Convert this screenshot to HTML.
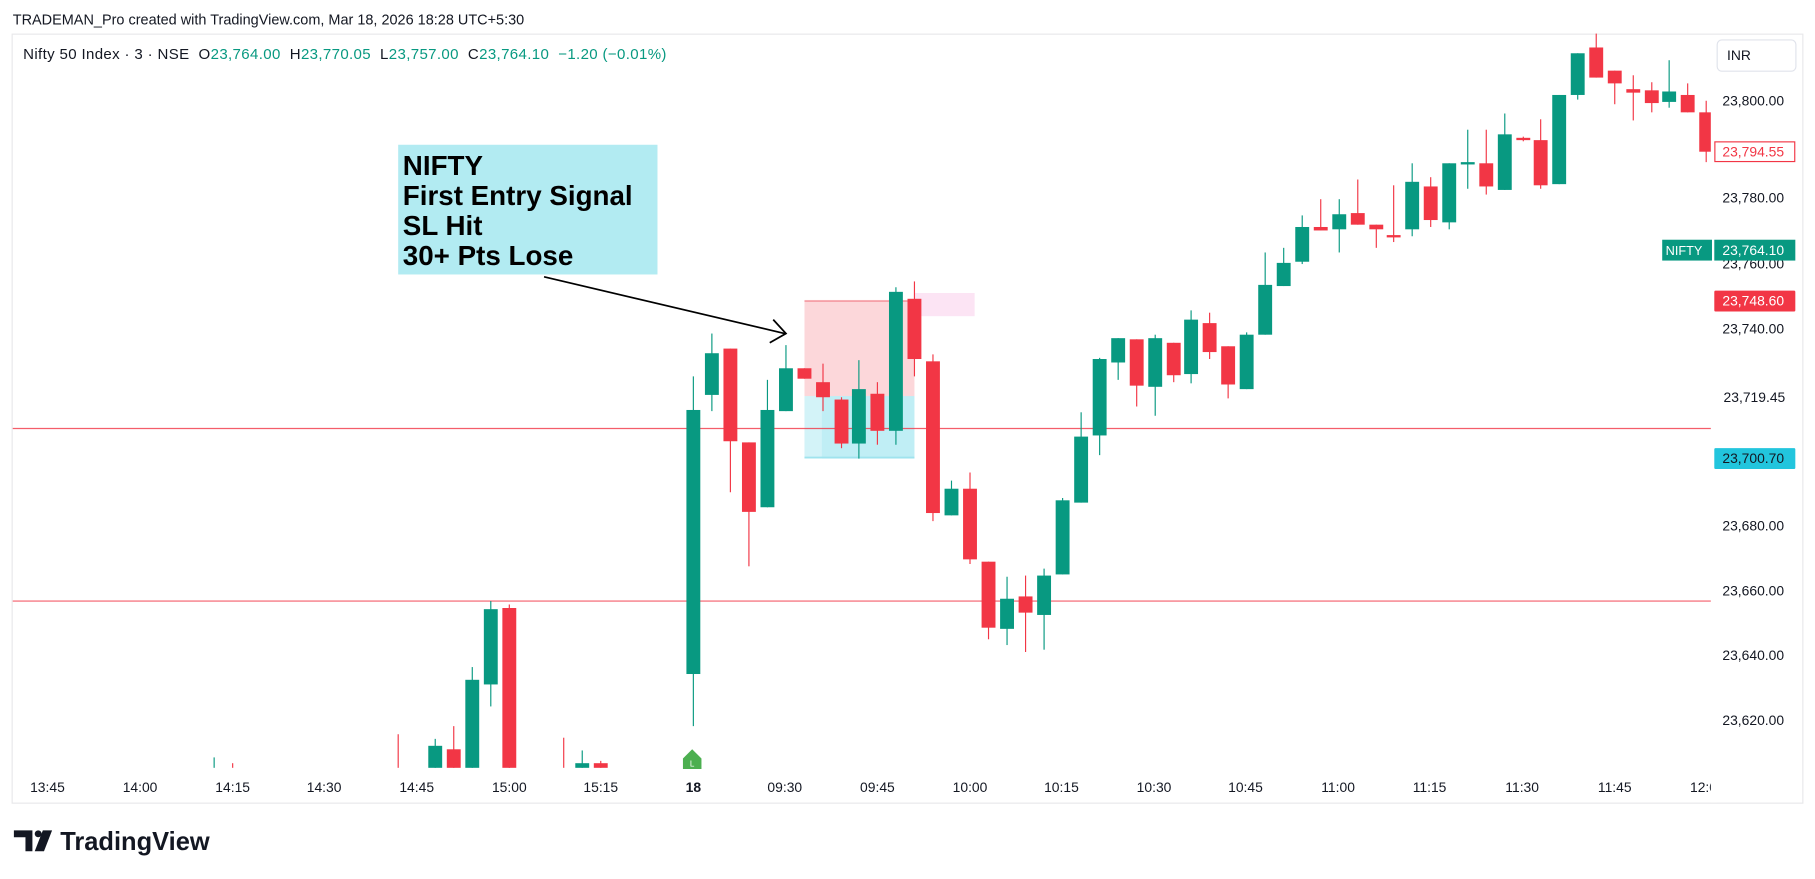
<!DOCTYPE html>
<html><head><meta charset="utf-8"><style>
html,body{margin:0;padding:0;background:#fff;overflow:hidden}
svg{display:block}
text{font-family:"Liberation Sans",sans-serif}
.g line{stroke:#089981;stroke-width:1}.g rect{fill:#089981}
.r line{stroke:#f23645;stroke-width:1}.r rect{fill:#f23645}
.ax{font-size:12px;fill:#131722}
</style></head><body>
<svg width="1815" height="879" viewBox="0 0 1568 759" preserveAspectRatio="none" xmlns="http://www.w3.org/2000/svg">
<rect width="1568" height="759" fill="#fff"/>
<text x="11" y="21" font-size="12.5" fill="#131722">TRADEMAN_Pro created with TradingView.com, Mar 18, 2026 18:28 UTC+5:30</text>
<rect x="10.5" y="29.5" width="1547" height="664" fill="#fff" stroke="#e8e8ea"/>
<text x="20" y="51" font-size="13" letter-spacing="0.3" fill="#131722" xml:space="preserve">Nifty 50 Index · 3 · NSE  O<tspan fill="#089981">23,764.00</tspan>  H<tspan fill="#089981">23,770.05</tspan>  L<tspan fill="#089981">23,757.00</tspan>  C<tspan fill="#089981">23,764.10  −1.20 (−0.01%)</tspan></text>
<rect x="1483.5" y="34.5" width="68" height="27" rx="4" fill="#fff" stroke="#e0e3eb"/>
<text x="1492" y="52" font-size="12" fill="#131722">INR</text>
<rect x="695" y="259" width="95" height="83" fill="#f23645" fill-opacity="0.2"/>
<line x1="695" y1="260" x2="790" y2="260" stroke="#f5a0a8" stroke-width="1.5"/>
<rect x="790" y="253" width="52" height="20" fill="#fce4f4"/>
<rect x="695" y="342" width="95" height="54" fill="#22c5dd" fill-opacity="0.2"/>
<rect x="710" y="342" width="80" height="54" fill="#22c5dd" fill-opacity="0.1"/>
<line x1="695" y1="395" x2="790" y2="395" stroke="#9fe3ee" stroke-width="1.5"/>
<line x1="11" y1="370" x2="1478" y2="370" stroke="#f23645" stroke-width="1" opacity="0.8"/>
<line x1="11" y1="519" x2="1478" y2="519" stroke="#f23645" stroke-width="1" opacity="0.8"/>
<g class="g"><line x1="185" y1="654" x2="185" y2="663"/></g>
<g class="r"><line x1="201" y1="659" x2="201" y2="663"/></g>
<g class="r"><line x1="344" y1="634" x2="344" y2="663"/></g>
<g class="g"><line x1="376" y1="638" x2="376" y2="663"/><rect x="370" y="644" width="12" height="19"/></g>
<g class="r"><line x1="392" y1="627" x2="392" y2="663"/><rect x="386" y="647" width="12" height="16"/></g>
<g class="g"><line x1="408" y1="576" x2="408" y2="663"/><rect x="402" y="587" width="12" height="76"/></g>
<g class="g"><line x1="424" y1="519" x2="424" y2="610"/><rect x="418" y="526" width="12" height="65"/></g>
<g class="r"><line x1="440" y1="522" x2="440" y2="663"/><rect x="434" y="525" width="12" height="138"/></g>
<g class="r"><line x1="487" y1="637" x2="487" y2="663"/></g>
<g class="g"><line x1="503" y1="648" x2="503" y2="663"/><rect x="497" y="659" width="12" height="4"/></g>
<g class="r"><line x1="519" y1="657" x2="519" y2="663"/><rect x="513" y="659" width="12" height="4"/></g>
<g class="g"><line x1="599" y1="325" x2="599" y2="627"/><rect x="593" y="354" width="12" height="228"/></g>
<g class="g"><line x1="615" y1="288" x2="615" y2="355"/><rect x="609" y="305" width="12" height="36"/></g>
<g class="r"><line x1="631" y1="301" x2="631" y2="425"/><rect x="625" y="301" width="12" height="80"/></g>
<g class="r"><line x1="647" y1="382" x2="647" y2="489"/><rect x="641" y="382" width="12" height="60"/></g>
<g class="g"><line x1="663" y1="328" x2="663" y2="438"/><rect x="657" y="354" width="12" height="84"/></g>
<g class="g"><line x1="679" y1="298" x2="679" y2="355"/><rect x="673" y="318" width="12" height="37"/></g>
<g class="r"><line x1="695" y1="318" x2="695" y2="327"/><rect x="689" y="318" width="12" height="9"/></g>
<g class="r"><line x1="711" y1="314" x2="711" y2="355"/><rect x="705" y="330" width="12" height="13"/></g>
<g class="r"><line x1="727" y1="343" x2="727" y2="387"/><rect x="721" y="345" width="12" height="38"/></g>
<g class="g"><line x1="742" y1="311" x2="742" y2="396"/><rect x="736" y="336" width="12" height="47"/></g>
<g class="r"><line x1="758" y1="330" x2="758" y2="384"/><rect x="752" y="340" width="12" height="32"/></g>
<g class="g"><line x1="774" y1="248" x2="774" y2="384"/><rect x="768" y="252" width="12" height="120"/></g>
<g class="r"><line x1="790" y1="243" x2="790" y2="325"/><rect x="784" y="258" width="12" height="52"/></g>
<g class="r"><line x1="806" y1="306" x2="806" y2="450"/><rect x="800" y="312" width="12" height="131"/></g>
<g class="g"><line x1="822" y1="415" x2="822" y2="445"/><rect x="816" y="422" width="12" height="23"/></g>
<g class="r"><line x1="838" y1="408" x2="838" y2="487"/><rect x="832" y="422" width="12" height="61"/></g>
<g class="r"><line x1="854" y1="485" x2="854" y2="552"/><rect x="848" y="485" width="12" height="57"/></g>
<g class="g"><line x1="870" y1="498" x2="870" y2="557"/><rect x="864" y="517" width="12" height="26"/></g>
<g class="r"><line x1="886" y1="497" x2="886" y2="563"/><rect x="880" y="515" width="12" height="14"/></g>
<g class="g"><line x1="902" y1="491" x2="902" y2="561"/><rect x="896" y="497" width="12" height="34"/></g>
<g class="g"><line x1="918" y1="430" x2="918" y2="496"/><rect x="912" y="432" width="12" height="64"/></g>
<g class="g"><line x1="934" y1="356" x2="934" y2="434"/><rect x="928" y="377" width="12" height="57"/></g>
<g class="g"><line x1="950" y1="309" x2="950" y2="393"/><rect x="944" y="310" width="12" height="66"/></g>
<g class="g"><line x1="966" y1="292" x2="966" y2="328"/><rect x="960" y="292" width="12" height="21"/></g>
<g class="r"><line x1="982" y1="293" x2="982" y2="351"/><rect x="976" y="293" width="12" height="40"/></g>
<g class="g"><line x1="998" y1="289" x2="998" y2="359"/><rect x="992" y="292" width="12" height="42"/></g>
<g class="r"><line x1="1014" y1="296" x2="1014" y2="330"/><rect x="1008" y="296" width="12" height="28"/></g>
<g class="g"><line x1="1029" y1="268" x2="1029" y2="331"/><rect x="1023" y="276" width="12" height="47"/></g>
<g class="r"><line x1="1045" y1="270" x2="1045" y2="310"/><rect x="1039" y="279" width="12" height="25"/></g>
<g class="r"><line x1="1061" y1="299" x2="1061" y2="344"/><rect x="1055" y="299" width="12" height="33"/></g>
<g class="g"><line x1="1077" y1="287" x2="1077" y2="336"/><rect x="1071" y="289" width="12" height="47"/></g>
<g class="g"><line x1="1093" y1="218" x2="1093" y2="289"/><rect x="1087" y="246" width="12" height="43"/></g>
<g class="g"><line x1="1109" y1="214" x2="1109" y2="247"/><rect x="1103" y="227" width="12" height="20"/></g>
<g class="g"><line x1="1125" y1="186" x2="1125" y2="228"/><rect x="1119" y="196" width="12" height="30"/></g>
<g class="r"><line x1="1141" y1="172" x2="1141" y2="199"/><rect x="1135" y="196" width="12" height="3"/></g>
<g class="g"><line x1="1157" y1="172" x2="1157" y2="218"/><rect x="1151" y="185" width="12" height="13"/></g>
<g class="r"><line x1="1173" y1="155" x2="1173" y2="194"/><rect x="1167" y="184" width="12" height="10"/></g>
<g class="r"><line x1="1189" y1="194" x2="1189" y2="214"/><rect x="1183" y="194" width="12" height="4"/></g>
<g class="r"><line x1="1204" y1="160" x2="1204" y2="209"/><rect x="1198" y="203" width="12" height="2"/></g>
<g class="g"><line x1="1220" y1="141" x2="1220" y2="204"/><rect x="1214" y="157" width="12" height="41"/></g>
<g class="r"><line x1="1236" y1="153" x2="1236" y2="196"/><rect x="1230" y="161" width="12" height="29"/></g>
<g class="g"><line x1="1252" y1="141" x2="1252" y2="198"/><rect x="1246" y="141" width="12" height="51"/></g>
<g class="g"><line x1="1268" y1="112" x2="1268" y2="163"/><rect x="1262" y="140" width="12" height="2"/></g>
<g class="r"><line x1="1284" y1="112" x2="1284" y2="168"/><rect x="1278" y="141" width="12" height="20"/></g>
<g class="g"><line x1="1300" y1="98" x2="1300" y2="164"/><rect x="1294" y="116" width="12" height="48"/></g>
<g class="r"><line x1="1316" y1="118" x2="1316" y2="122"/><rect x="1310" y="119" width="12" height="2"/></g>
<g class="r"><line x1="1331" y1="103" x2="1331" y2="163"/><rect x="1325" y="121" width="12" height="39"/></g>
<g class="g"><line x1="1347" y1="82" x2="1347" y2="159"/><rect x="1341" y="82" width="12" height="77"/></g>
<g class="g"><line x1="1363" y1="46" x2="1363" y2="86"/><rect x="1357" y="46" width="12" height="36"/></g>
<g class="r"><line x1="1379" y1="29" x2="1379" y2="67"/><rect x="1373" y="41" width="12" height="26"/></g>
<g class="r"><line x1="1395" y1="61" x2="1395" y2="90"/><rect x="1389" y="61" width="12" height="11"/></g>
<g class="r"><line x1="1411" y1="65" x2="1411" y2="104"/><rect x="1405" y="77" width="12" height="3"/></g>
<g class="r"><line x1="1427" y1="71" x2="1427" y2="97"/><rect x="1421" y="78" width="12" height="11"/></g>
<g class="g"><line x1="1442" y1="52" x2="1442" y2="93"/><rect x="1436" y="79" width="12" height="9"/></g>
<g class="r"><line x1="1458" y1="72" x2="1458" y2="97"/><rect x="1452" y="82" width="12" height="15"/></g>
<g class="r"><line x1="1474" y1="87" x2="1474" y2="140"/><rect x="1468" y="97" width="10" height="34"/></g>
<path d="M598 647 L606 655 L606 664 L590 664 L590 655 Z" fill="#4caf50"/>
<text x="598" y="662" font-size="7" fill="#fff" text-anchor="middle">L</text>
<rect x="344" y="125" width="224" height="112" fill="#b2ebf2"/>
<g font-size="24" font-weight="bold" fill="#000">
<text x="348" y="151" font-family="DejaVu Sans, sans-serif">NIFTY</text>
<text x="348" y="177" font-family="DejaVu Sans, sans-serif">First Entry Signal</text>
<text x="348" y="203" font-family="DejaVu Sans, sans-serif">SL Hit</text>
<text x="348" y="229" font-family="DejaVu Sans, sans-serif">30+ Pts Lose</text>
</g>
<line x1="470" y1="239" x2="678" y2="288" stroke="#000" stroke-width="1.5"/>
<path d="M668 276 L679 288 L665 296" fill="none" stroke="#000" stroke-width="1.5"/>
<g class="ax" text-anchor="start">
<text x="1488" y="91">23,800.00</text>
<text x="1488" y="175">23,780.00</text>
<text x="1488" y="232">23,760.00</text>
<text x="1488" y="288">23,740.00</text>
<text x="1489" y="347">23,719.45</text>
<text x="1488" y="458">23,680.00</text>
<text x="1488" y="514">23,660.00</text>
<text x="1488" y="570">23,640.00</text>
<text x="1488" y="626">23,620.00</text>
</g>
<rect x="1481.5" y="122.5" width="69" height="17" fill="#fff" stroke="#f23645"/>
<text x="1488" y="135" font-size="12" fill="#f23645">23,794.55</text>
<rect x="1436" y="207" width="43" height="18" fill="#089981"/>
<text x="1439" y="220" font-size="11" fill="#fff">NIFTY</text>
<rect x="1481" y="207" width="70" height="18" fill="#089981"/>
<text x="1488" y="220" font-size="12" fill="#fff">23,764.10</text>
<rect x="1481" y="251" width="70" height="18" rx="1" fill="#f23645"/>
<text x="1488" y="264" font-size="12" fill="#fff">23,748.60</text>
<rect x="1481" y="387" width="70" height="18" rx="1" fill="#22c5dd"/>
<text x="1488" y="400" font-size="12" fill="#131722">23,700.70</text>
<g class="ax" text-anchor="middle">
<text x="41" y="684">13:45</text><text x="121" y="684">14:00</text><text x="201" y="684">14:15</text>
<text x="280" y="684">14:30</text><text x="360" y="684">14:45</text><text x="440" y="684">15:00</text>
<text x="519" y="684">15:15</text><text x="599" y="684" font-weight="bold">18</text><text x="678" y="684">09:30</text>
<text x="758" y="684">09:45</text><text x="838" y="684">10:00</text><text x="917" y="684">10:15</text>
<text x="997" y="684">10:30</text><text x="1076" y="684">10:45</text><text x="1156" y="684">11:00</text>
<text x="1235" y="684">11:15</text><text x="1315" y="684">11:30</text><text x="1395" y="684">11:45</text>
</g>
<text x="1460" y="684" class="ax">12:0</text>
<rect x="1478" y="668" width="5" height="25" fill="#fff"/>
<g fill="#131722">
<path d="M12 717 H28 V735 H22 V723 H12 Z"/><circle cx="33" cy="720" r="3"/><path d="M37 717 H45 L38 735 H30 Z"/>
</g>
<text x="52" y="734" font-size="22" font-weight="bold" fill="#131722">TradingView</text>
</svg>
</body></html>
